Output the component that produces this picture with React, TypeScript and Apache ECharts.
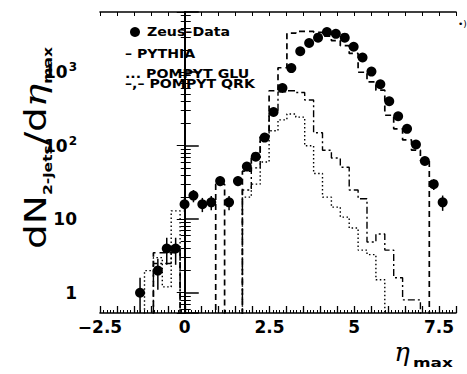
import React, { useEffect, useRef } from 'react';
import * as echarts from 'echarts';

// ---- axis definition ----
const xMin = -2.5;
const xMax = 8;
const binWidth = 0.2625; // 40 bins from -2.5 to 8
const xTickLabels = ['−2.5', '0', '2.5', '5', '7.5'];
const yMin = 0.53;
const yMax = 6600;
const yTickValues = [1, 10, 100, 1000];
const yTickLabels = ['1', '10', '10{s|2}', '10{s|3}'];

// ---- data (one value per bin, 40 bins) ----
const zeusData = [
  null, null, null, null, 1.0, null, 2.0, 4.0, 4.0, 16,
  21, 16, 17, 33, 17, 33, 52, 71, 129, 288,
  610, 1140, 1930, 2500, 2950, 3520, 3330, 2950, 2220, 1585,
  1020, 687, 403, 252, 170, 104, 62, 30, 17, null,
];
// statistical error (+/-) of the data points, where visible
const zeusErr = [
  null, null, null, null, 0.6, null, 0.9, 1.6, 1.6, 3.5,
  4, 3.5, 3.7, 5, 3.7, 5, 6.5, 7.5, null, null,
  null, null, null, null, null, null, null, null, null, null,
  null, null, null, null, null, null, 7, 5, 4, null,
];
const pythia = [
  0, 0, 0, 0, 0, 0, 3.5, 3.5, 3.5, 0,
  0, 0, 0, 30, 0, 0, 45, 70, 140, 560,
  1150, 3400, 3600, 3600, 3500, 3100, 2700, 2300, 1800, 1000,
  740, 570, 260, 170, 120, 87, 63, 0, 0, 0,
];
const pompytGlu = [
  0, 0, 0, 0, 0, 2.0, 3.0, 1.2, 13, 0,
  0, 0, 0, 0, 0, 0, 20, 30, 60, 160,
  225, 270, 245, 100, 42, 20, 14.6, 10.7, 7.6, 3.8,
  3.3, 1.5, 0, 0, 0, 0, 0, 0, 0, 0,
];
const pompytQrk = [
  0, 0, 0, 0, 0, 0, 2.5, 2.5, 4.0, 0,
  0, 0, 0, 0, 0, 0, 25, 50, 130, 280,
  540, 560, 530, 420, 150, 87, 68, 51, 25, 19,
  4.9, 6.3, 3.8, 1.6, 0.8, 0.8, 0, 0, 0, 0,
];

const EMPTY_FLOOR = 1e-3; // empty bins drawn down to (below) the axis floor

const edgeAt = (k: number) => xMin + k * binWidth;
const centerAt = (k: number) => xMin + (k + 0.5) * binWidth;

function stepData(values: number[]) {
  const pts: number[][] = values.map((v, i) => [edgeAt(i), v > 0 ? v : EMPTY_FLOOR]);
  const last = values[values.length - 1];
  pts.push([edgeAt(values.length), last > 0 ? last : EMPTY_FLOOR]);
  return pts;
}

const FONT = '"DejaVu Sans", Arial, sans-serif';

export default function App() {
  const ref = useRef<HTMLDivElement>(null);
  useEffect(() => {
    if (!ref.current) return;
    const chart = echarts.init(ref.current, null, { renderer: 'svg' });
    const scatterData = zeusData
      .map((v, i) => (v == null ? null : [centerAt(i), v]))
      .filter((p) => p != null);
    const errData = zeusData
      .map((v, i) => {
        const e = zeusErr[i];
        if (v == null || e == null) return null;
        return [centerAt(i), Math.max(v - e, EMPTY_FLOOR), v + e];
      })
      .filter((p) => p != null);

    const axisCommonX = {
      type: 'value',
      min: xMin,
      max: xMax,
      interval: 0.5,
      splitLine: { show: false },
      axisLine: { show: true, onZero: false, lineStyle: { color: '#000', width: 1.6 } },
    };
    const axisCommonY = {
      type: 'log',
      logBase: 10,
      min: yMin,
      max: yMax,
      splitLine: { show: false },
      axisLine: { show: true, lineStyle: { color: '#000', width: 2 } },
    };
    const legendText = (text: string, x: number, y: number) => ({
      type: 'text', x, y, scaleX: 1.18,
      style: { text, fontSize: 12, fontWeight: 'bold', fontFamily: FONT, fill: '#000', verticalAlign: 'middle' },
    });

    chart.setOption({
      animation: false,
      backgroundColor: '#fff',
      grid: { left: 100, right: 11, top: 12, bottom: 61, containLabel: false },
      xAxis: [
        {
          ...axisCommonX,
          position: 'bottom',
          axisTick: { show: true, inside: true, length: 7, lineStyle: { color: '#000', width: 1.3 } },
          minorTick: { show: true, splitNumber: 5, length: 3, lineStyle: { color: '#000', width: 1 } },
          axisLabel: {
            show: true,
            margin: 5,
            color: '#000',
            fontFamily: FONT,
            fontWeight: 'bold',
            fontSize: 17,
            formatter: (v: number) => {
              const r = (v - xMin) / 2.5;
              if (Math.abs(r - Math.round(r)) < 1e-6) return xTickLabels[Math.round(r)] ?? '';
              return '';
            },
          },
        },
        {
          ...axisCommonX,
          position: 'top',
          axisTick: { show: true, inside: true, length: 4, lineStyle: { color: '#000', width: 1 } },
          minorTick: { show: false },
          axisLabel: { show: false },
        },
      ],
      yAxis: [
        {
          ...axisCommonY,
          position: 'left',
          axisTick: { show: true, inside: true, length: 14, lineStyle: { color: '#000', width: 1.5 } },
          minorTick: { show: true, splitNumber: 9, length: 6, lineStyle: { color: '#000', width: 1 } },
          axisLabel: {
            show: true,
            margin: 23,
            color: '#000',
            fontFamily: FONT,
            fontWeight: 'bold',
            fontSize: 17,
            formatter: (v: number) => {
              const idx = yTickValues.findIndex((t) => Math.abs(Math.log10(v) - Math.log10(t)) < 1e-6);
              return idx >= 0 ? yTickLabels[idx] : '';
            },
            rich: {
              s: { fontSize: 12, fontFamily: FONT, fontWeight: 'bold', verticalAlign: 'top', padding: [0, 0, 10, 1] },
            },
          },
        },
        {
          ...axisCommonY,
          position: 'right',
          axisTick: { show: true, inside: true, length: 8, lineStyle: { color: '#000', width: 1 } },
          minorTick: { show: true, splitNumber: 9, length: 4, lineStyle: { color: '#000', width: 1 } },
          axisLabel: { show: false },
        },
      ],
      series: [
        {
          name: 'PYTHIA',
          type: 'line',
          step: 'end',
          xAxisIndex: 0,
          yAxisIndex: 0,
          symbol: 'none',
          clip: true,
          data: stepData(pythia),
          lineStyle: { color: '#000', width: 1.7, type: [6, 4] },
          z: 2,
        },
        {
          name: 'POMPYT GLU',
          type: 'line',
          step: 'end',
          xAxisIndex: 0,
          yAxisIndex: 0,
          symbol: 'none',
          clip: true,
          data: stepData(pompytGlu),
          lineStyle: { color: '#000', width: 1.4, type: [1.5, 2.5] },
          z: 2,
        },
        {
          name: 'POMPYT QRK',
          type: 'line',
          step: 'end',
          xAxisIndex: 0,
          yAxisIndex: 0,
          symbol: 'none',
          clip: true,
          data: stepData(pompytQrk),
          lineStyle: { color: '#000', width: 1.4, type: [7, 3, 2, 3] },
          z: 2,
        },
        {
          name: 'Zeus-Data errors',
          type: 'custom',
          xAxisIndex: 0,
          yAxisIndex: 0,
          clip: true,
          data: errData,
          encode: { x: 0, y: [1, 2] },
          renderItem: (params: any, api: any) => {
            const lo = api.coord([api.value(0), api.value(1)]);
            const hi = api.coord([api.value(0), api.value(2)]);
            return {
              type: 'line',
              shape: { x1: lo[0], y1: lo[1], x2: hi[0], y2: hi[1] },
              style: { stroke: '#000', lineWidth: 1.5 },
            };
          },
          z: 4,
        },
        {
          name: 'Zeus-Data',
          type: 'scatter',
          xAxisIndex: 0,
          yAxisIndex: 0,
          symbol: 'circle',
          symbolSize: 10,
          clip: true,
          data: scatterData,
          itemStyle: { color: '#000', opacity: 1 },
          z: 5,
        },
      ],
      graphic: [
        { type: 'circle', shape: { cx: 135, cy: 32, r: 5 }, style: { fill: '#000' } },
        legendText('Zeus–Data', 147, 32),
        legendText('– PYTHIA', 125, 54),
        legendText('... POMPYT GLU', 125, 74),
        legendText('–,– POMPYT QRK', 125, 84),
        {
          type: 'text', x: 36, y: 148, rotation: Math.PI / 2, scaleX: 1.3,
          style: {
            text: '{b|dN}{s|2-jets}{b|/d}{e|η}{s|max}',
            align: 'center',
            verticalAlign: 'middle',
            fill: '#000',
            rich: {
              b: { fontSize: 30, fontFamily: FONT, lineHeight: 36, fill: '#000' },
              e: { fontSize: 30, fontFamily: '"DejaVu Serif", serif', fontStyle: 'italic', lineHeight: 36, fill: '#000' },
              s: { fontSize: 12, fontFamily: FONT, fontWeight: 'bold', verticalAlign: 'bottom', lineHeight: 14, fill: '#000' },
            },
          },
        },
        {
          type: 'text', x: 402, y: 352,
          style: { text: 'η', fontSize: 26, fontFamily: '"DejaVu Serif", serif', fontStyle: 'italic', fill: '#000', align: 'center', verticalAlign: 'middle' },
        },
        {
          type: 'text', x: 413, y: 363, scaleX: 1.3,
          style: { text: 'max', fontSize: 13, fontWeight: 'bold', fontFamily: FONT, fill: '#000', verticalAlign: 'middle' },
        },
        {
          type: 'text', x: 458, y: 24,
          style: { text: '•)', fontSize: 9, fontFamily: FONT, fill: '#000', verticalAlign: 'middle' },
        },
      ],
    });
    return () => chart.dispose();
  }, []);
  return (
    <div
      ref={ref}
      style={{ position: 'fixed', left: 0, top: 0, width: 467, height: 374, background: '#fff' }}
    />
  );
}
